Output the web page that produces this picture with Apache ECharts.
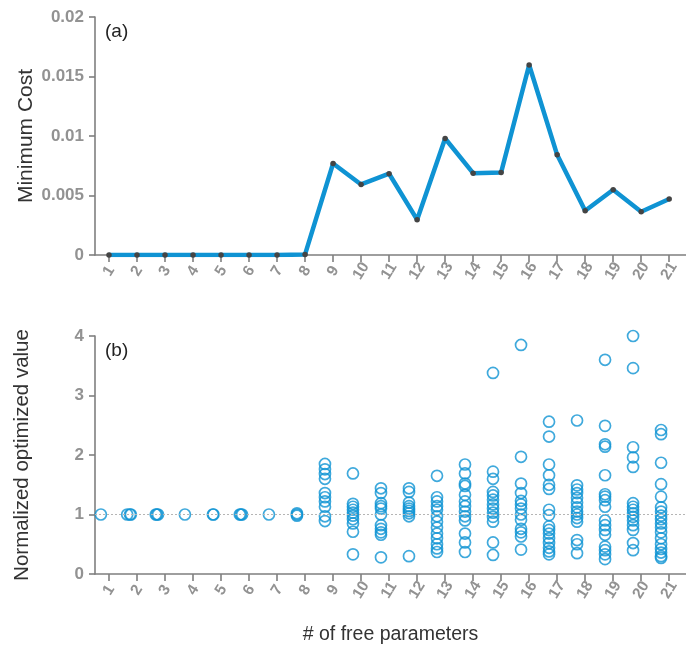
<!DOCTYPE html>
<html><head><meta charset="utf-8">
<script src="https://cdn.jsdelivr.net/npm/echarts@6/dist/echarts.min.js"></script>
<style>html,body{margin:0;padding:0;background:#fff}#c{width:686px;height:649px}</style>
</head><body><div id="c"></div>
<script>
// ---- data ----
const paramCounts = [1,2,3,4,5,6,7,8,9,10,11,12,13,14,15,16,17,18,19,20,21];
const minCost = [0,0,0,0,0,0,0,0.00005,0.00769,0.00593,0.00683,0.00297,0.00979,0.00688,0.00694,0.01597,0.00842,0.00372,0.00548,0.00364,0.00470];
const costTicks = [0, 0.005, 0.01, 0.015, 0.02];
const costTickLabels = ['0','0.005','0.01','0.015','0.02'];
const normTicks = [0,1,2,3,4];
// normalized optimized values per number of free parameters
const opt1 = [1.0];
const opt2 = [1.0, 1.0, 1.0];
const opt3 = [1.0, 1.0, 1.0];
const opt4 = [1.0];
const opt5 = [1.0, 1.0];
const opt6 = [1.0, 1.0, 1.0];
const opt7 = [1.0];
const opt8 = [0.98, 1.0, 1.02];
const opt9 = [1.85, 1.76, 1.68, 1.6, 1.36, 1.29, 1.22, 1.13, 0.97, 0.89];
const opt10 = [1.69, 1.18, 1.13, 1.08, 1.03, 0.98, 0.92, 0.85, 0.71, 0.33];
const opt11 = [1.44, 1.36, 1.19, 1.14, 1.10, 1.0, 0.82, 0.76, 0.70, 0.66, 0.28];
const opt12 = [1.44, 1.38, 1.2, 1.14, 1.1, 1.06, 1.02, 0.97, 0.3];
const opt13 = [1.65, 1.29, 1.22, 1.14, 1.08, 0.97, 0.88, 0.78, 0.68, 0.6, 0.5, 0.43, 0.37];
const opt14 = [1.84, 1.69, 1.52, 1.48, 1.33, 1.22, 1.14, 1.05, 0.97, 0.9, 0.68, 0.53, 0.37];
const opt15 = [3.38, 1.72, 1.6, 1.38, 1.32, 1.25, 1.17, 1.1, 1.03, 0.96, 0.88, 0.53, 0.32];
const opt16 = [3.85, 1.97, 1.52, 1.36, 1.23, 1.17, 1.1, 1.0, 0.91, 0.76, 0.7, 0.63, 0.41];
const opt17 = [2.56, 2.31, 1.84, 1.66, 1.5, 1.43, 1.08, 0.99, 0.8, 0.74, 0.68, 0.6, 0.52, 0.44, 0.38, 0.33];
const opt18 = [2.58, 1.49, 1.42, 1.36, 1.28, 1.2, 1.12, 1.05, 1.0, 0.94, 0.88, 0.57, 0.5, 0.35];
const opt19 = [3.6, 2.49, 2.18, 2.14, 1.66, 1.34, 1.3, 1.24, 1.13, 0.9, 0.82, 0.74, 0.66, 0.46, 0.4, 0.33, 0.25];
const opt20 = [4.0, 3.46, 2.13, 1.96, 1.8, 1.19, 1.13, 1.08, 1.02, 0.96, 0.9, 0.82, 0.74, 0.52, 0.4];
const opt21 = [2.42, 2.35, 1.87, 1.51, 1.3, 1.12, 1.05, 0.98, 0.92, 0.85, 0.78, 0.7, 0.6, 0.5, 0.42, 0.36, 0.3, 0.27];
const optValues = [opt1,opt2,opt3,opt4,opt5,opt6,opt7,opt8,opt9,opt10,opt11,opt12,opt13,opt14,opt15,opt16,opt17,opt18,opt19,opt20,opt21];
// small horizontal spread of overlapping runs (in parameter units)
const spread = [[0],[-0.06,0.04,0.07],[-0.04,0,0.04],[0],[0,0.02],[-0.04,0,0.04],[0],[0,0,0]];
const refLine = 1;

// ---- build ----
const BLUE = '#0f93d3';
const GRAY = '#929292';
const FONT = 'Liberation Sans, Arial, sans-serif';
const xShift = -0.29;
const scatterData = [];
optValues.forEach((arr, i) => {
  arr.forEach((v, j) => {
    const sp = spread[i] ? (spread[i][j] || 0) : 0;
    scatterData.push([paramCounts[i] + xShift + sp, v]);
  });
});
const lineData = paramCounts.map((p, i) => [p, minCost[i]]);

const axisLine = {show: true, lineStyle: {color: '#7f7f7f', width: 1.6}};
const tickLabelStyle = {color: GRAY, fontSize: 17, fontWeight: 'bold', fontFamily: FONT};

function xAxisCfg(gridIndex, name) {
  return {
    type: 'value', gridIndex, min: 0.5, max: 21.6,
    axisLine, splitLine: {show: false},
    axisTick: {show: true, customValues: paramCounts, length: 7, lineStyle: {color: '#7f7f7f', width: 1.6}},
    axisLabel: Object.assign({}, tickLabelStyle, {customValues: paramCounts, fontSize: 15.5, rotate: 58, margin: 16,
      align: 'center', verticalAlign: 'middle', formatter: v => String(v)}),
    name: name || '', nameLocation: 'middle', nameGap: 51, nameMoveOverlap: false,
    nameTextStyle: {color: '#333', fontSize: 19.5, fontFamily: FONT}
  };
}

const chart = echarts.init(document.getElementById('c'), null, {renderer: 'canvas'});
chart.setOption({
  animation: false,
  backgroundColor: '#fff',
  grid: [
    {left: 95, right: 0, top: 17, height: 238},
    {left: 95, right: 0, top: 336, height: 238}
  ],
  xAxis: [xAxisCfg(0), xAxisCfg(1, '# of free parameters')],
  yAxis: [
    {type: 'value', gridIndex: 0, min: 0, max: 0.02, interval: 0.005,
     axisLine, splitLine: {show: false},
     axisTick: {show: true, length: 6, lineStyle: {color: '#7f7f7f', width: 1.6}},
     axisLabel: Object.assign({}, tickLabelStyle, {margin: 11, formatter: v => costTickLabels[costTicks.findIndex(t => Math.abs(t - v) < 1e-9)] ?? String(v)}),
     name: 'Minimum Cost', nameLocation: 'middle', nameGap: 58, nameMoveOverlap: false,
     nameTextStyle: {color: '#333', fontSize: 21, fontFamily: FONT}},
    {type: 'value', gridIndex: 1, min: normTicks[0], max: normTicks[normTicks.length - 1], interval: 1,
     axisLine, splitLine: {show: false},
     axisTick: {show: true, length: 6, lineStyle: {color: '#7f7f7f', width: 1.6}},
     axisLabel: Object.assign({}, tickLabelStyle, {margin: 11}),
     name: 'Normalized optimized value', nameLocation: 'middle', nameGap: 62, nameMoveOverlap: false,
     nameTextStyle: {color: '#333', fontSize: 20.5, fontFamily: FONT}}
  ],
  series: [
    {type: 'line', xAxisIndex: 0, yAxisIndex: 0, data: lineData,
     lineStyle: {color: BLUE, width: 4.5}, symbol: 'circle', symbolSize: 5.5,
     itemStyle: {color: '#444'}, z: 3},
    {type: 'scatter', xAxisIndex: 1, yAxisIndex: 1, data: scatterData,
     symbol: 'circle', symbolSize: 11,
     itemStyle: {color: 'rgba(0,0,0,0)', borderColor: BLUE, borderWidth: 1.7},
     markLine: {silent: true, symbol: 'none', label: {show: false},
       lineStyle: {color: '#b5b5b5', type: [2, 2], width: 1},
       data: [{yAxis: refLine}]}, z: 3}
  ],
  graphic: [
    {type: 'text', left: 105, top: 22, style: {text: '(a)', fontSize: 19, fill: '#222', fontFamily: FONT}},
    {type: 'text', left: 105, top: 341, style: {text: '(b)', fontSize: 19, fill: '#222', fontFamily: FONT}}
  ]
});
</script></body></html>
